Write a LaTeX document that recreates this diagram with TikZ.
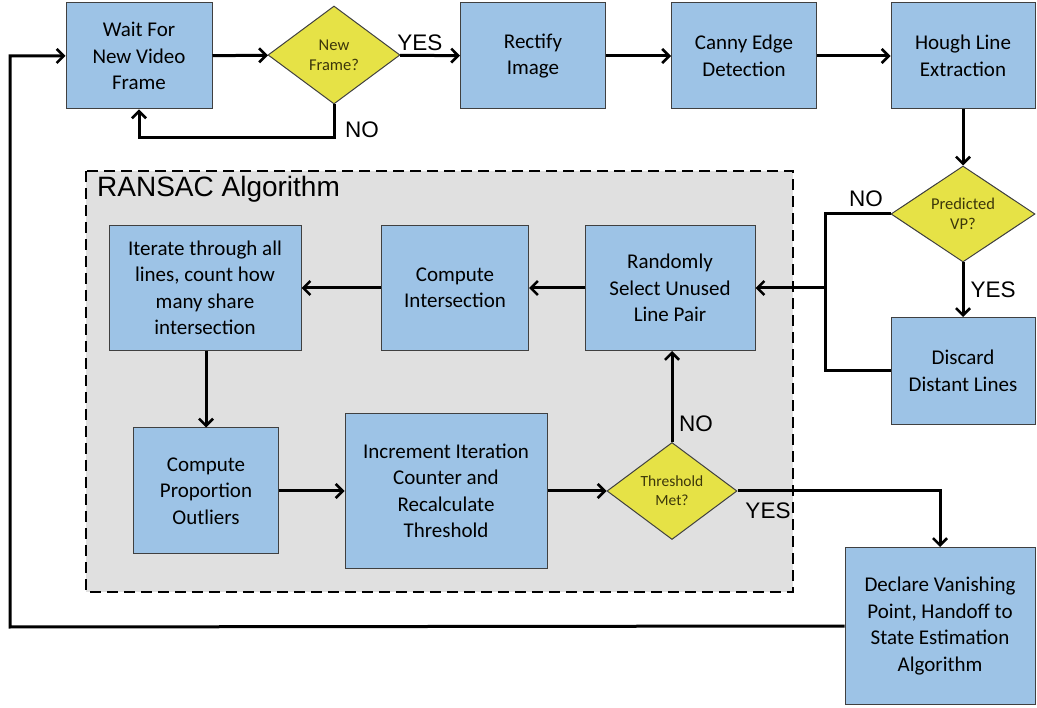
\documentclass[tikz,border=0pt]{standalone}
\usepackage{fontspec}
\setmainfont{Carlito}
\newfontfamily\lblfont{Liberation Sans}
\usepackage{tikz}
\usetikzlibrary{shapes.geometric}
\usetikzlibrary{arrows.meta}
\usetikzlibrary{calc}

\definecolor{boxblue}{RGB}{157,195,230}
\definecolor{decyellow}{RGB}{230,226,70}
\definecolor{dectext}{RGB}{60,55,10}
\definecolor{ransacgray}{RGB}{224,224,224}

\tikzset{
  procbox/.style={rectangle, draw=black!75, line width=1pt, fill=boxblue,
    align=center, font=\fontsize{21}{26.5}\selectfont, inner sep=2pt},
  decision/.style={diamond, draw=black!75, line width=1pt, fill=decyellow,
    align=center, text=dectext, font=\fontsize{16.5}{20}\selectfont, inner sep=0pt},
  flow/.style={line width=3pt, -{Straight Barb[length=7pt,width=14pt,line width=2.6pt]}},
  plain/.style={line width=3pt},
  yesno/.style={font=\lblfont\fontsize{22.5}{25}\selectfont}
}

\begin{document}
\begin{tikzpicture}[x=1pt,y=-1pt]
\useasboundingbox (0,0) rectangle (1037,708);

% RANSAC background
\draw[fill=ransacgray, line width=2.6pt, dash pattern=on 11pt off 6pt] (86,171) rectangle (793,592);
\node[anchor=north west, font=\lblfont\fontsize{28}{32}\selectfont, inner sep=0pt] (ransac) at (97,176) {RANSAC Algorithm};

% top row
\node[procbox, minimum width=146pt, minimum height=106pt] (wait) at (139,56) {Wait For\\New Video\\Frame};
\node[decision, minimum width=132pt, minimum height=98pt] (newframe) at (334,55) {New\\Frame?};
\node[procbox, minimum width=145pt, minimum height=106pt] (rectify) at (533,56) {Rectify\\Image};
\node[procbox, minimum width=145pt, minimum height=106pt] (canny) at (744,56) {Canny Edge\\Detection};
\node[procbox, minimum width=144pt, minimum height=106pt] (hough) at (963,56) {Hough Line\\Extraction};

% right column
\node[decision, minimum width=144pt, minimum height=96pt] (predvp) at (963,214) {Predicted\\VP?};
\node[procbox, minimum width=144pt, minimum height=107pt] (discard) at (963,371) {Discard\\Distant Lines};
\node[procbox, minimum width=190pt, minimum height=157pt] (declare) at (940,626) {Declare Vanishing\\Point, Handoff to\\State Estimation\\Algorithm};

% RANSAC loop
\node[procbox, minimum width=170pt, minimum height=125pt] (select) at (670,288) {Randomly\\Select Unused\\Line Pair};
\node[procbox, minimum width=147pt, minimum height=125pt] (inter) at (455,288) {Compute\\Intersection};
\node[procbox, minimum width=192pt, minimum height=125pt] (iterate) at (205,288) {Iterate through all\\lines, count how\\many share\\intersection};
\node[procbox, minimum width=145pt, minimum height=126pt] (prop) at (206,491) {Compute\\Proportion\\Outliers};
\node[procbox, minimum width=202pt, minimum height=155pt] (incr) at (446,491) {Increment Iteration\\Counter and\\Recalculate\\Threshold};
\node[decision, minimum width=130pt, minimum height=97pt, font=\fontsize{15.5}{19}\selectfont] (thresh) at (672,491) {Threshold\\Met?};

% junction points
\coordinate (nojoin) at (825,288);
\coordinate (backleft) at (10,627);

% connectors
\draw[flow] (wait) -- (newframe);
\draw[flow] (newframe) -- node[yesno, pos=0.33, above, inner sep=3pt] {YES} (rectify);
\draw[flow] (newframe.south) -- ++(0,33) -| (wait.south);
\node[yesno] (nolbl1) at (362,130) {NO};
\draw[flow] (rectify) -- (canny);
\draw[flow] (canny) -- (hough);
\draw[flow] (hough) -- (predvp);
\draw[flow] (predvp) -- node[yesno, right, inner sep=6pt] {YES} (discard);
\draw[plain] (predvp.west) -| (nojoin) |- (discard.west);
\draw[plain] (nojoin |- predvp.west) -- (nojoin);
\node[yesno] (nolbl2) at (866,199) {NO};
\draw[flow] (nojoin) -- (select);
\draw[flow] (select) -- (inter);
\draw[flow] (inter) -- (iterate);
\draw[flow] (iterate.south -| prop.north) -- (prop.north);
\draw[flow] (prop) -- (incr);
\draw[flow] (incr) -- (thresh);
\draw[flow] (thresh.north) -- (thresh.north |- select.south);
\node[yesno] (nolbl3) at (696,424) {NO};
\draw[flow] (thresh.east) -| (declare.north);
\node[yesno] (yeslbl3) at (768,511) {YES};
\draw[flow] (declare.west) -- (backleft) |- (wait.west);
\end{tikzpicture}
\end{document}
